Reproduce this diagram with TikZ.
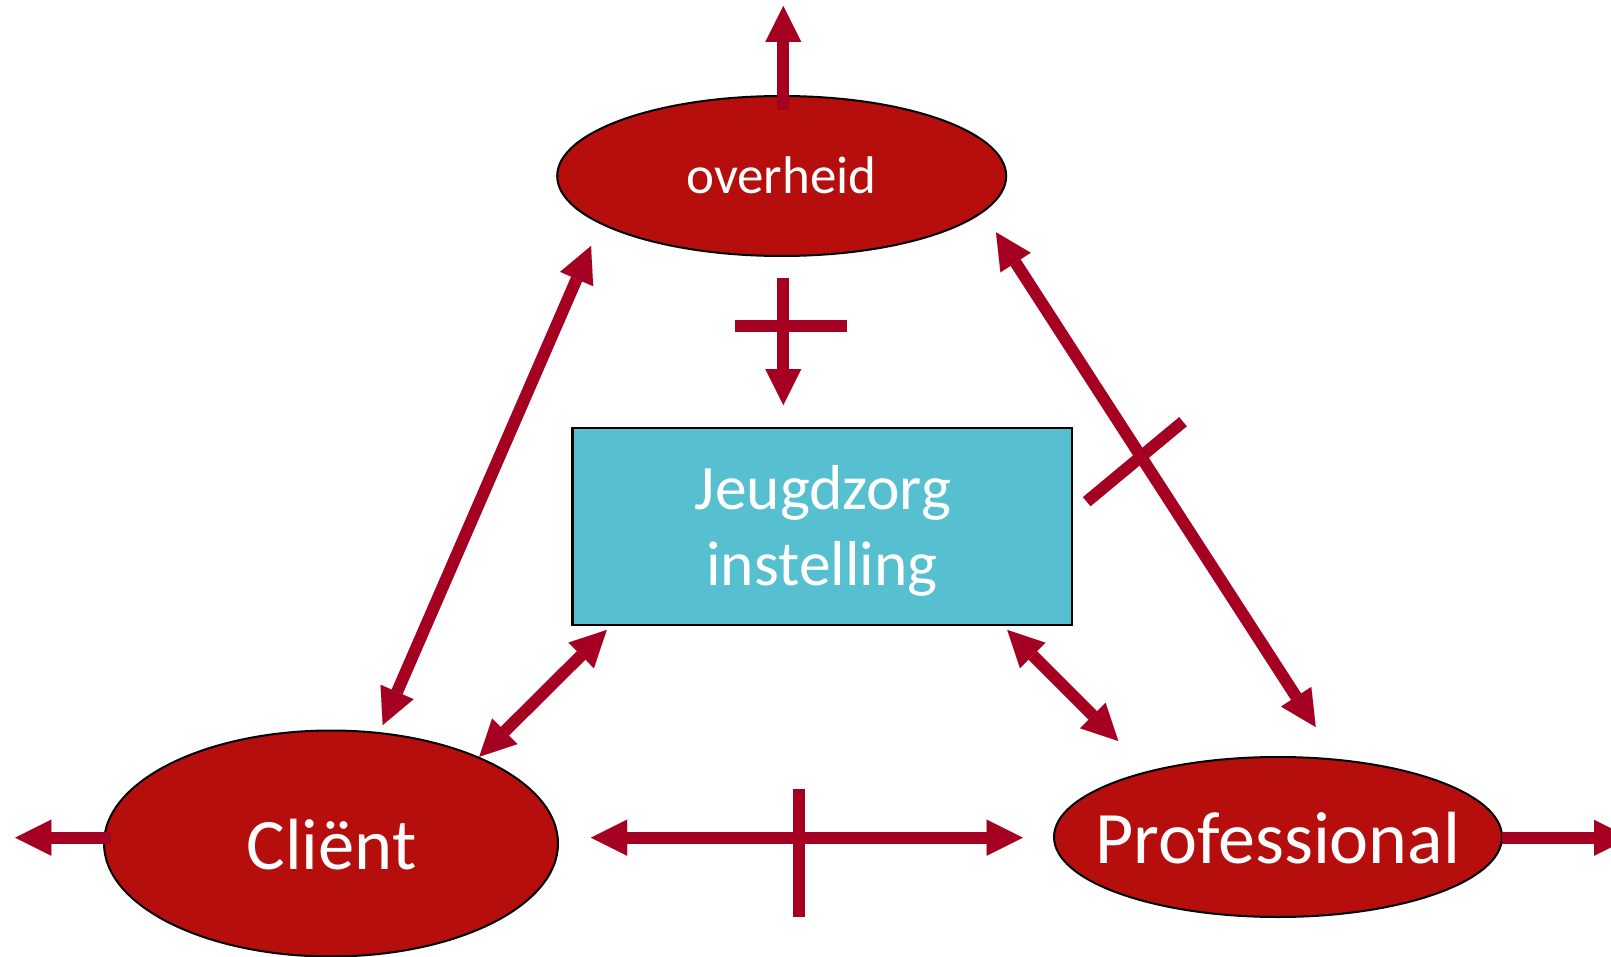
\documentclass[tikz,border=0pt]{standalone}
\usepackage{fontspec}
\setmainfont{Carlito}
\usetikzlibrary{arrows.meta,shapes.geometric}
\definecolor{ovalred}{RGB}{181,14,12}
\definecolor{arrowred}{RGB}{165,0,33}
\definecolor{boxcyan}{RGB}{87,192,208}
\begin{document}
\begin{tikzpicture}[x=1pt,y=-1pt,
  oval/.style={ellipse, draw=black, line width=2pt, fill=ovalred, inner sep=0pt},
  boxnode/.style={rectangle, draw=black, line width=2.5pt, fill=boxcyan, inner sep=0pt},
  txt/.style={text=white, inner sep=0pt},
  tri/.tip={Triangle[length=36pt,width=36pt,line width=0.01pt]},
  conn/.style={draw=arrowred, line width=12pt},
  both/.style={conn, tri-tri},
  single/.style={conn, -tri},
  bar/.style={draw=arrowred, line width=12pt}
]
\useasboundingbox (0,0) rectangle (1611,957);
\clip (0,0) rectangle (1611,957);
\fill[white] (0,0) rectangle (1611,957);

% nodes
\node[oval, minimum width=449pt, minimum height=160pt] (ov) at (781.7,176) {};
\node[oval, minimum width=454pt, minimum height=226pt] (cl) at (331,843.5) {};
\node[oval, minimum width=448pt, minimum height=160pt] (pr) at (1278,837) {};
\node[boxnode, minimum width=499.5pt, minimum height=197pt] (bx) at (822.25,526.5) {};

\node[txt, anchor=base] (ovt) at (781.5,193.3) {\fontsize{53}{63}\selectfont overheid};
\node[txt, anchor=base] (clt) at (331.5,869) {\fontsize{72.5}{86}\selectfont Cliënt};
\node[txt, anchor=base] (prt) at (1278,863) {\fontsize{74}{88}\selectfont Professional};
\node[txt, anchor=base] (bxt1) at (823,509.6) {\fontsize{63.5}{76}\selectfont Jeugdzorg};
\node[txt, anchor=base] (bxt2) at (822,585.6) {\fontsize{63.5}{76}\selectfont instelling};

% connector end points
\coordinate (ovTopS) at (783.3,110);
\coordinate (ovTopE) at (783.3,6);
\coordinate (ovDownS) at (783.3,277.7);
\coordinate (ovDownE) at (783.3,405);
\coordinate (ovBarA) at (735,326);
\coordinate (ovBarB) at (846.7,326);

\coordinate (ovCl) at (591,246);
\coordinate (clOv) at (382.7,725);

\coordinate (ovPr) at (996,232.3);
\coordinate (prOv) at (1315.7,727);
\coordinate (opBarA) at (1086.7,501.7);
\coordinate (opBarB) at (1183,421.7);

\coordinate (bxCl) at (606.7,630);
\coordinate (clBx) at (479.3,756.7);

\coordinate (bxPr) at (1007.3,630);
\coordinate (prBx) at (1118.3,741);

\coordinate (clPr) at (591,837.7);
\coordinate (prCl) at (1022.7,837.7);
\coordinate (cpBarA) at (799.2,789.3);
\coordinate (cpBarB) at (799.2,917.3);

\coordinate (clLeftS) at (110.7,837.7);
\coordinate (clLeftE) at (15.3,837.7);
\coordinate (prRightS) at (1502.3,837.8);
\coordinate (prRightE) at (1630,837.8);

% connectors
\draw[single] (ovTopS) -- (ovTopE);
\draw[single] (ovDownS) -- (ovDownE);
\draw[bar] (ovBarA) -- (ovBarB);

\draw[both] (ovCl) -- (clOv);
\draw[both] (ovPr) -- (prOv);
\draw[bar] (opBarA) -- (opBarB);

\draw[both] (bxCl) -- (clBx);
\draw[both] (bxPr) -- (prBx);

\draw[both] (clPr) -- (prCl);
\draw[bar] (cpBarA) -- (cpBarB);

\draw[single] (clLeftS) -- (clLeftE);
\draw[single] (prRightS) -- (prRightE);
\end{tikzpicture}
\end{document}
